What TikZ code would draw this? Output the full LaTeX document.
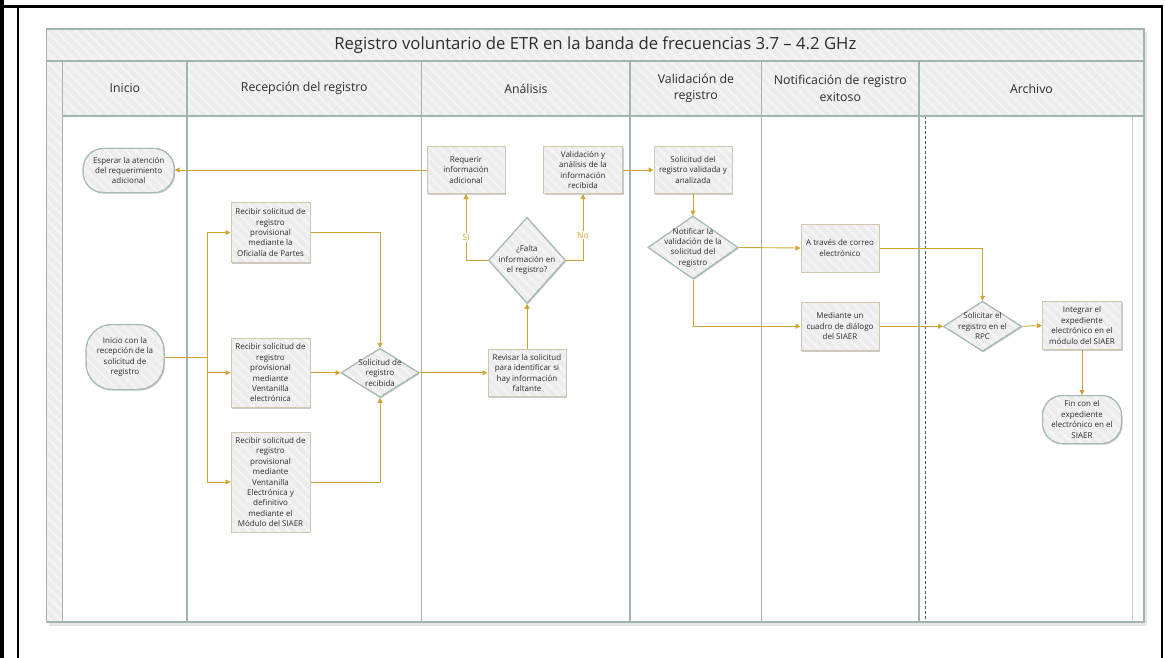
\documentclass[tikz,border=0pt]{standalone}
\usepackage{fontspec}
\setmainfont{Open Sans}
\usetikzlibrary{arrows.meta,patterns.meta,shapes.geometric,shadows}
\definecolor{lanec}{RGB}{160,182,172}
\definecolor{bandfill}{RGB}{237,237,237}
\definecolor{stripec}{RGB}{245,245,245}
\definecolor{flowc}{RGB}{207,166,52}
\definecolor{boxborder}{RGB}{208,200,172}
\definecolor{shapeborder}{RGB}{165,186,178}
\definecolor{textc}{RGB}{45,45,45}
\definecolor{dashc}{RGB}{85,85,85}
\newcommand\flowfont{\fontsize{8}{10.4}\selectfont}
\newcommand\headfont{\fontsize{12.3}{16.5}\selectfont}
\newcommand\titlefont{\fontsize{16.7}{18}\selectfont}
\tikzset{
  hatch/.style={fill=bandfill, postaction={pattern={Lines[angle=-45,distance=7pt,line width=2pt]}, pattern color=stripec}},
  hatchb/.style={fill=bandfill, postaction={pattern={Lines[angle=-45,distance=7pt,line width=2pt]}, pattern color=stripec}, postaction={draw=#1, line width=1pt}},
  lane/.style={draw=lanec, line width=1.1pt},
  shad/.style={drop shadow={shadow xshift=1pt,shadow yshift=-1.2pt,opacity=0.2,fill=black}},
  proc/.style={draw=boxborder, line width=1pt, hatchb=boxborder, shad, minimum width=79pt, inner sep=1pt, align=center, font=\flowfont, text=textc},
  term/.style={draw=shapeborder, line width=1pt, hatchb=shapeborder, shad, inner sep=1pt, align=center, font=\flowfont, text=textc},
  dia/.style={diamond, draw=shapeborder, line width=1pt, hatchb=shapeborder, shad, inner sep=0pt},
  diatext/.style={align=center, font=\flowfont, text=textc, inner sep=0pt},
  head/.style={align=center, font=\headfont, text=textc},
  flow/.style={draw=flowc, line width=0.9pt},
  arr/.style={flow, -{Triangle[length=5pt,width=5pt]}},
  lbl/.style={fill=white, text=flowc, font=\fontsize{8.5}{9}\selectfont, inner sep=1pt},
  frame/.style={draw=black}
}
\begin{document}
\begin{tikzpicture}[x=1pt,y=-1pt]
\useasboundingbox (0,0) rectangle (1165,658);
% outer frame lines
\draw[frame, line width=4pt] (2,0) -- (2,658);
\draw[frame, line width=3.3pt] (0,6.6) -- (1163.2,6.6);
\draw[frame, line width=2pt] (17.7,6.6) -- (17.7,658);
\draw[frame, line width=2.3pt] (1162,6.6) -- (1162,658);
% pool
\fill[black, opacity=0.10] (49,32) rectangle (1147,626);
\fill[white] (46.7,29) rectangle (1144,622);
\path[hatch] (46.7,29) rectangle (1144,61);
\path[hatch] (46.7,61) rectangle (1144,116);
\path[hatch] (46.7,116) rectangle (62.7,622);
\draw[gray!40, line width=0.8pt] (1132.7,116) -- (1132.7,622);
\draw[dashc, line width=1.3pt, dash pattern=on 3pt off 2pt] (925.7,116) -- (925.7,622);
\draw[lane] (46.7,61) -- (1144,61);
\draw[lane] (62.7,116) -- (1144,116);
\foreach \xx in {62.7,187,421.7,630,761.7,919} {\draw[lane] (\xx,61) -- (\xx,622);}
\draw[lane] (46.7,29) rectangle (1144,622);
% title and headers
\node[font=\titlefont, text=textc] (title) at (595.3,45.5) {Registro voluntario de ETR en la banda de frecuencias 3.7 – 4.2 GHz};
\node[head] (h1) at (124.9,88.5) {Inicio};
\node[head] (h2) at (304.3,88.5) {Recepción del registro};
\node[head] (h3) at (525.9,88.5) {Análisis};
\node[head] (h4) at (695.9,88.5) {Validación de\\registro};
\node[head] (h5) at (840.3,88.5) {Notificación de registro\\exitoso};
\node[head] (h6) at (1031.5,88.5) {Archivo};
% Inicio lane
\node[term, minimum width=91pt, minimum height=44pt, rounded corners=20pt] (esp) at (128.7,170.5) {Esperar la atención\\del requerimiento\\adicional};
\node[term, minimum width=78pt, minimum height=65pt, rounded corners=26pt] (ini) at (125,357) {Inicio con la\\recepción de la\\solicitud de\\registro};
% Recepcion lane
\node[proc, minimum height=60pt] (ra) at (270.5,232.5) {Recibir solicitud de\\registro\\provisional\\mediante la\\Oficialía de Partes};
\node[proc, minimum height=69pt] (rb) at (270.5,372.8) {Recibir solicitud de\\registro\\provisional\\mediante\\Ventanilla\\electrónica};
\node[proc, minimum height=100pt] (rc) at (270.5,482) {Recibir solicitud de\\registro\\provisional\\mediante\\Ventanilla\\Electrónica y\\definitivo\\mediante el\\Módulo del SIAER};
\node[dia, minimum width=78pt, minimum height=49pt] (d1) at (380,372.8) {};
\node[diatext] (d1t) at (d1.center) {Solicitud de\\registro\\recibida};
% Analisis lane
\node[proc, minimum width=78pt, minimum height=47pt] (rev) at (527,372.8) {Revisar la solicitud\\para identificar si\\hay información\\faltante};
\node[dia, minimum width=77pt, minimum height=86pt] (d2) at (527,260.3) {};
\node[diatext] (d2t) at (d2.center) {¿Falta\\información en\\el registro?};
\node[proc, minimum width=78pt, minimum height=47pt] (req) at (466,170) {Requerir\\información\\adicional};
\node[proc, minimum width=79pt, minimum height=47pt] (val) at (583,170) {Validación y\\análisis de la\\información\\recibida};
% Validacion lane
\node[proc, minimum width=78pt, minimum height=47pt] (sva) at (693,170) {Solicitud del\\registro validada y\\analizada};
\node[dia, minimum width=90pt, minimum height=63pt] (d3) at (693,247.5) {};
\node[diatext] (d3t) at (d3.center) {Notificar la\\validación de la\\solicitud del\\registro};
% Notificacion lane
\node[proc, minimum width=78pt, minimum height=48pt] (cor) at (840,248) {A través de correo\\electrónico};
\node[proc, minimum width=78pt, minimum height=48pt] (dlg) at (840,326.3) {Mediante un\\cuadro de diálogo\\del SIAER};
% Archivo lane
\node[dia, minimum width=78pt, minimum height=50pt] (d4) at (982.5,326.3) {};
\node[diatext] (d4t) at (d4.center) {Solicitar el\\registro en el\\RPC};
\node[proc, minimum width=79pt, minimum height=48pt] (int) at (1082,325.5) {Integrar el\\expediente\\electrónico en el\\módulo del SIAER};
\node[term, minimum width=79pt, minimum height=48pt, rounded corners=20pt] (fin) at (1082,419.5) {Fin con el\\expediente\\electrónico en el\\SIAER};
% connectors
\coordinate (sp) at (207.7,357);
\draw[flow] (ini.east) -- (sp);
\draw[arr] (sp) |- (ra.west);
\draw[arr] (sp) |- (rb.west);
\draw[arr] (sp) |- (rc.west);
\draw[arr] (ra.east) -| (d1.north);
\draw[arr] (rb.east) -- (d1.west);
\draw[arr] (rc.east) -| (d1.south);
\draw[arr] (d1.east) -- (rev.west);
\draw[arr] (rev.north) -- (d2.south);
\draw[arr] (d2.west) -| node[lbl, pos=0.67] (lsi) {Sí} (req.south);
\draw[arr] (d2.east) -| node[lbl, pos=0.69] (lno) {No} (val.south);
\draw[arr] (req.west) -- (req.west -| esp.east);
\draw[arr] (val.east) -- (sva.west);
\draw[arr] (sva.south) -- (d3.north);
\draw[arr] (d3.east) -- (cor.west);
\draw[arr] (d3.south) |- (dlg.west);
\draw[arr] (cor.east) -| (d4.north);
\draw[arr] (dlg.east) -- (d4.west);
\draw[arr] (d4.east) -- (int.west);
\draw[arr] (int.south) -- (fin.north);
\end{tikzpicture}
\end{document}
